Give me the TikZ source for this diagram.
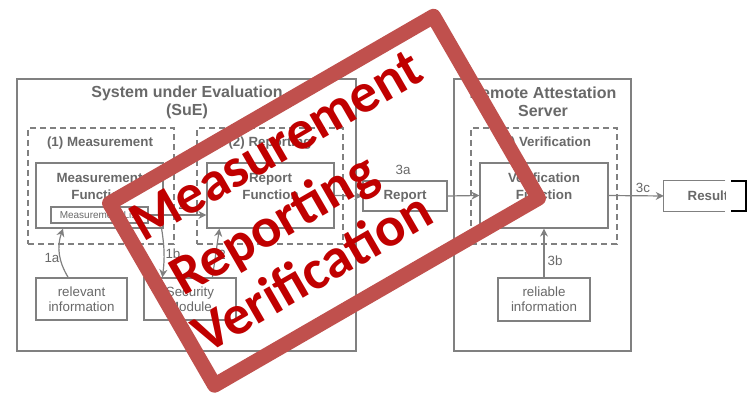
\documentclass[tikz,border=0pt]{standalone}
\usepackage{fontspec}
\setmainfont{Liberation Sans}
\newfontfamily\stampfont{Carlito}
\usetikzlibrary{arrows.meta}

\definecolor{diagline}{RGB}{128,128,128}
\definecolor{diagtext}{RGB}{105,105,105}
\definecolor{stampframe}{RGB}{192,80,77}
\definecolor{stamptext}{RGB}{192,0,0}

\begin{document}
\begin{tikzpicture}[x=0.75pt, y=-0.75pt,
  box/.style={draw=diagline, line width=0.9pt, inner sep=0pt},
  group/.style={draw=diagline, line width=0.9pt, dash pattern=on 4.5pt off 3pt, inner sep=0pt},
  title/.style={text=diagtext, font=\fontsize{12}{13.5}\selectfont\bfseries, align=center},
  heading/.style={text=diagtext, font=\fontsize{10}{12}\selectfont\bfseries},
  boxtext/.style={text=diagtext, font=\fontsize{10}{12.75}\selectfont\bfseries, align=center},
  infotext/.style={text=diagtext, font=\fontsize{10}{11.25}\selectfont, align=center},
  steplabel/.style={text=diagtext, font=\fontsize{10}{12}\selectfont, inner sep=1pt},
  arr/.style={draw=diagline, line width=0.9pt, -{Stealth[length=6pt, width=6pt]}},
  stamp/.style={text=stamptext, font=\stampfont\fontsize{42}{50}\selectfont\bfseries, rotate=30, anchor=base west, inner sep=0pt}
]

% canvas
\fill[white] (0,0) rectangle (751,395);

% System under Evaluation
\node[box, minimum width=254.25pt, minimum height=204pt] (sue) at (186.5,215) {};
\node[title] (sue-title) at (187,102) {System under Evaluation\\(SuE)};

% (1) Measurement
\node[group, minimum width=109.5pt, minimum height=87pt] (meas) at (101,186) {};
\node[heading] (meas-title) at (100,143) {(1) Measurement};
\node[box, minimum width=95.25pt, minimum height=48.75pt] (mf) at (99.5,195.5) {};
\node[boxtext] (mf-text) at (99.5,186.5) {Measurement\\Function};
\node[box, minimum width=72.75pt, minimum height=12pt, text=diagtext, font=\fontsize{7.5}{9}\selectfont] (ml) at (99.5,215) {Measurement List};
\node[box, infotext, minimum width=68.25pt, minimum height=31.5pt] (relinfo) at (81.5,299) {relevant\\information};
\node[box, infotext, minimum width=69pt, minimum height=31.5pt] (secmod) at (190,299) {Security\\Module};

% (2) Reporting
\node[group, minimum width=109.5pt, minimum height=87pt] (rep) at (270,186) {};
\node[heading] (rep-title) at (270,143) {(2) Reporting};
\node[box, minimum width=95.25pt, minimum height=48.75pt] (rf) at (270.5,195.5) {};
\node[boxtext] (rf-text) at (270.5,186.5) {Report\\Function};

% Report
\node[box, boxtext, minimum width=63pt, minimum height=22.5pt] (report) at (405,196) {Report};

% Remote Attestation Server
\node[box, minimum width=132.75pt, minimum height=204pt] (ras) at (542.5,215) {};
\node[title] (ras-title) at (543,102) {Remote Attestation\\Server};

% (3) Verification
\node[group, minimum width=109.5pt, minimum height=87pt] (ver) at (544,186) {};
\node[heading] (ver-title) at (545,143) {(3) Verification};
\node[box, minimum width=96pt, minimum height=48.75pt] (vf) at (544,195.5) {};
\node[boxtext] (vf-text) at (544,186.5) {Verification\\Function};
\node[box, infotext, minimum width=69pt, minimum height=32.25pt] (reliable) at (544,299.5) {reliable\\information};

% Result (cut on the right)
\node[minimum width=45.75pt, minimum height=22.5pt, inner sep=0pt] (result) at (694.5,196) {};
\draw[diagline, line width=0.9pt] (result.north east) -- (result.north west) -- (result.south west) -- (result.south east);
\begin{scope}
  \clip (664,170) rectangle (725,220);
  \node[boxtext] (result-text) at (708,196) {Result};
\end{scope}
\draw[black, line width=0.9pt] (731,181) -- (746,181) -- (746,211) -- (731,211);

% steps
\draw[arr] ([xshift=-10pt]relinfo.north) to[bend left=25] ([xshift=-27.4pt]mf.south);
\node[steplabel] (l1a) at (52,258) {1a};
\draw[arr] ([xshift=-1.5pt]mf.south east) to[bend left=8] ([xshift=14.25pt]secmod.north west);
\node[steplabel] (l1b) at (173,254) {1b};
\draw[arr] ([xshift=51.75pt]secmod.north west) -- ([xshift=9.75pt]rf.south west);
\node[steplabel] (l2b) at (222,255) {2};
\draw[arr] (ml.east) -- (ml.east -| rf.west);
\node[steplabel] (l2a) at (182,205) {2};
\draw[arr] (rf.east) -- (report.west);
\node[steplabel] (l3a) at (403,170) {3a};
\draw[arr] (report.east) -- (vf.west);
\draw[arr] (reliable.north) -- (vf.south);
\node[steplabel] (l3b) at (555,261) {3b};
\draw[arr] (vf.east) -- (result.west);
\node[steplabel] (l3c) at (643,188) {3c};

% stamp on top
\node[draw=stampframe, line width=11.25pt, line join=round, rotate=30, minimum width=280.5pt, minimum height=157.5pt, inner sep=0pt] (frame) at (324,200.75) {};
\node[stamp] (w-meas) at (143,243) {Measurement};
\node[stamp] (w-rep) at (183,297) {Reporting};
\node[stamp] (w-ver) at (206,355) {Verification};

\useasboundingbox (0,0) rectangle (751,395);
\end{tikzpicture}
\end{document}
